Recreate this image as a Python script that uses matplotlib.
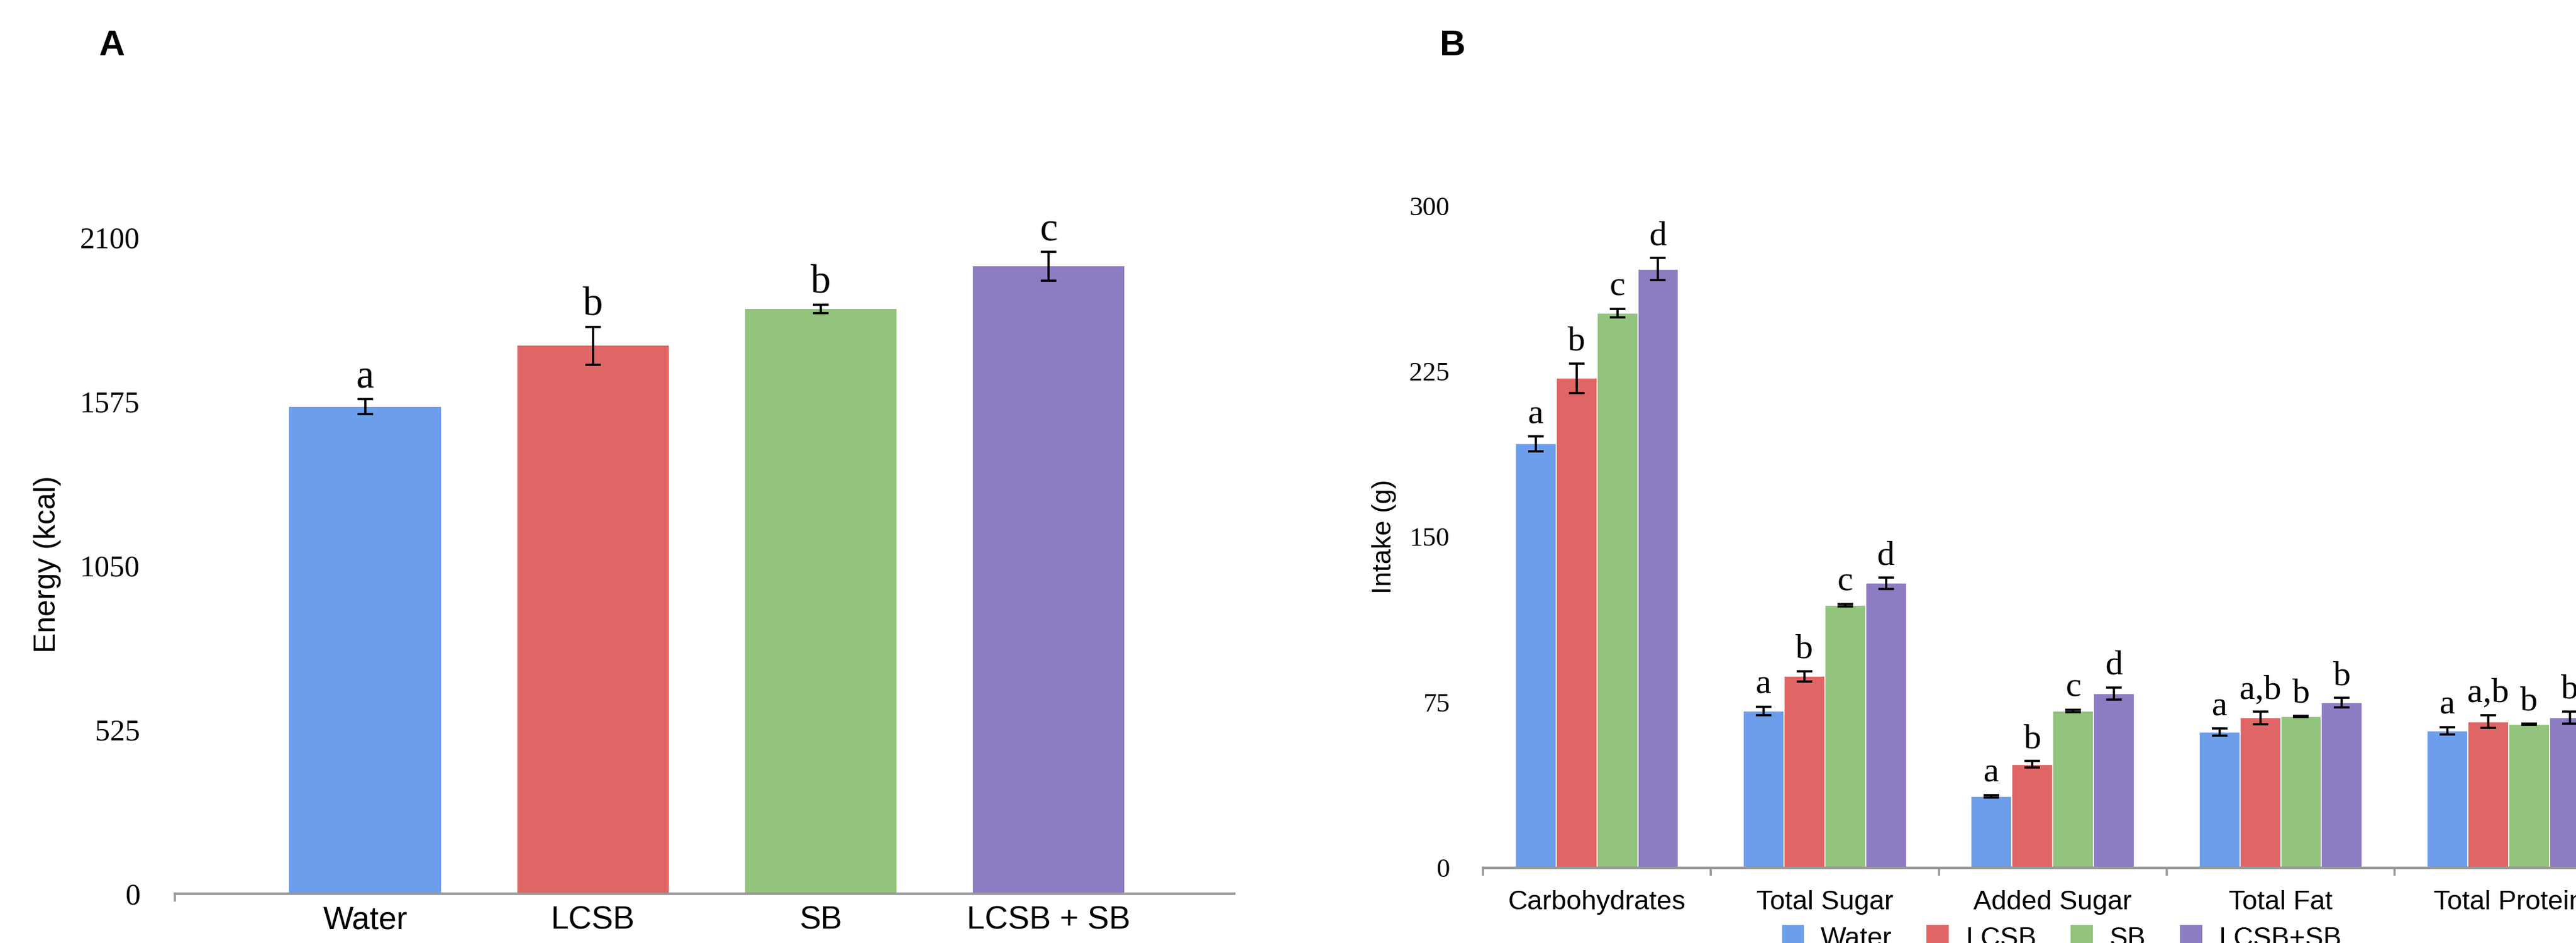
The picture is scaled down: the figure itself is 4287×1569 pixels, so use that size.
import numpy as np
import matplotlib.pyplot as plt

# Panel A: total energy intake
energy_groups = ['Water', 'LCSB', 'SB', 'LCSB + SB']
energy_kcal = [1558, 1753, 1871, 2008]
energy_err = [24, 60, 13, 46]
energy_letters = ['a', 'b', 'b', 'c']

# Panel B: macronutrient intake (g)
nutrients = ['Carbohydrates', 'Total Sugar', 'Added Sugar', 'Total Fat', 'Total Protein']
series_names = ['Water', 'LCSB', 'SB', 'LCSB+SB']
water_g = [192.1, 71.1, 32.3, 61.4, 62.0]
lcsb_g = [221.8, 86.7, 46.8, 67.9, 66.2]
sb_g = [251.4, 119.0, 71.0, 68.6, 65.0]
combo_g = [271.3, 128.9, 78.9, 74.7, 68.0]
water_err = [3.3, 1.9, 0.6, 1.6, 1.6]
lcsb_err = [6.8, 2.3, 1.5, 2.8, 2.9]
sb_err = [2.0, 0.5, 0.5, 0.3, 0.3]
combo_err = [5.0, 2.5, 2.7, 2.2, 2.8]
water_let = ['a', 'a', 'a', 'a', 'a']
lcsb_let = ['b', 'b', 'b', 'a,b', 'a,b']
sb_let = ['c', 'c', 'c', 'b', 'b']
combo_let = ['d', 'd', 'd', 'b', 'b']

colors = ['#6d9eeb', '#e06666', '#93c47d', '#8e7cc3']
axis_grey = '#999999'
serif = 'Liberation Serif'
sans = 'Liberation Sans'

W, H = 4287, 1569
fig = plt.figure(figsize=(W / 100, H / 100), dpi=100)

# ---------------- panel A ----------------
axA = fig.add_axes([291 / W, (H - 1487) / H, 1763 / W, 1092 / H])
xa = np.arange(len(energy_groups))
axA.bar(xa, energy_kcal, width=0.667, color=colors, zorder=2)
axA.errorbar(xa, energy_kcal, yerr=energy_err, fmt='none', ecolor='black',
             elinewidth=2.6, capsize=9.5, capthick=2.6, zorder=3)
for x, v, e, t in zip(xa, energy_kcal, energy_err, energy_letters):
    axA.annotate(t, (x, v + e), xytext=(0, 14), textcoords='offset points',
                 ha='center', va='baseline', fontsize=48, family=serif)
for x, t in zip(xa, energy_groups):
    axA.annotate(t, (x, 0), xytext=(0, -41.8), textcoords='offset points',
                 ha='center', va='baseline', fontsize=38.5, family=sans,
                 annotation_clip=False)
axA.set_xlim(-0.836, 3.815)
axA.set_ylim(0, 2100)
axA.set_yticks([0, 525, 1050, 1575, 2100])
axA.set_yticklabels(['0', '525', '1050', '1575', '2100'], family=serif, fontsize=36)
axA.set_xticks([-0.836])
axA.set_xticklabels([''])

# ---------------- panel B ----------------
axB = fig.add_axes([2468 / W, (H - 1443.5) / H, 1896.5 / W, 1101 / H])
xb = np.arange(len(nutrients))
bw = 0.179
all_vals = [water_g, lcsb_g, sb_g, combo_g]
all_errs = [water_err, lcsb_err, sb_err, combo_err]
all_lets = [water_let, lcsb_let, sb_let, combo_let]
handles = []
for k in range(4):
    pos = xb + (k - 1.5) * bw
    b = axB.bar(pos, all_vals[k], width=bw, color=colors[k], edgecolor='white',
                linewidth=1.2, label=series_names[k], zorder=2)
    handles.append(b)
    axB.errorbar(pos, all_vals[k], yerr=all_errs[k], fmt='none', ecolor='black',
                 elinewidth=2.6, capsize=9.5, capthick=2.6, zorder=3)
    for x, v, e, t in zip(pos, all_vals[k], all_errs[k], all_lets[k]):
        axB.annotate(t, (x, v + e), xytext=(0, 16), textcoords='offset points',
                     ha='center', va='baseline', fontsize=42, family=serif,
                     annotation_clip=False)
for x, t in zip(xb, nutrients):
    axB.annotate(t, (x, 0), xytext=(0, -50), textcoords='offset points',
                 ha='center', va='baseline', fontsize=32.5, family=sans,
                 annotation_clip=False)
axB.set_xlim(-0.5, 4.5)
axB.set_ylim(0, 300)
axB.set_yticks([0, 75, 150, 225, 300])
axB.set_yticklabels(['0', '75', '150', '225', '300'], family=serif, fontsize=32)
axB.set_xticks(np.arange(-0.5, 5, 1))
axB.set_xticklabels([''] * 6)

for ax, pad in ((axA, 42), (axB, 40)):
    for s in ('top', 'right', 'left'):
        ax.spines[s].set_visible(False)
    ax.spines['bottom'].set_color(axis_grey)
    ax.spines['bottom'].set_linewidth(3)
    ax.spines['bottom'].set_zorder(4)
    ax.tick_params(axis='y', length=0, pad=pad)
    ax.tick_params(axis='x', length=9.5, width=2.6, color=axis_grey, direction='out')

fig.text(79 / W, 1 - 939 / H, 'Energy (kcal)', rotation=90, ha='center', va='center',
         fontsize=36, family=sans)
fig.text(2303 / W, 1 - 893 / H, 'Intake (g)', rotation=90, ha='center', va='center',
         fontsize=32.5, family=sans)
fig.text(186 / W, 1 - 76 / H, 'A', ha='center', va='center', fontsize=43,
         fontweight='bold', family=sans)
fig.text(2418 / W, 1 - 77 / H, 'B', ha='center', va='center', fontsize=43,
         fontweight='bold', family=sans)

fig.legend(handles=handles, labels=series_names, loc='upper center',
           bbox_to_anchor=(3431 / W, 1 - 1538 / H), ncol=4, frameon=False,
           prop={'family': sans, 'size': 32.5}, handlelength=0.85, handleheight=1.0,
           handletextpad=0.6, columnspacing=1.25, borderpad=0, borderaxespad=0)

fig.savefig('out.png', dpi=100)
